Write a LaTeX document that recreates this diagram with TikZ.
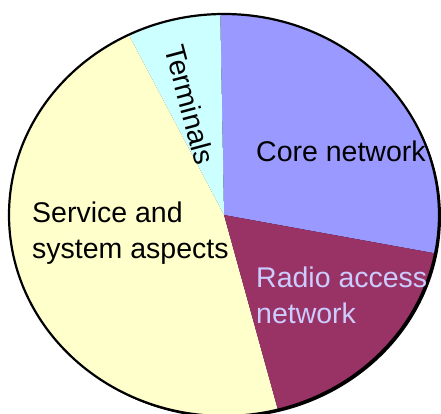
\documentclass[tikz,border=0pt]{standalone}
\usepackage{fontspec}
\setmainfont{Liberation Sans}
\usetikzlibrary{positioning,calc}
\definecolor{termcol}{RGB}{204,255,255}
\definecolor{corecol}{RGB}{153,153,255}
\definecolor{radiocol}{RGB}{153,51,102}
\definecolor{servcol}{RGB}{255,255,204}
\definecolor{radiotext}{RGB}{204,204,255}
\tikzset{
    slice/.style={draw=none},
    rim/.style={draw=black, line width=2.2pt},
    lbl/.style={
        inner sep=0pt,
        align=left,
        font=\fontsize{28.5}{34}\selectfont
    }
}

\begin{document}
\begin{tikzpicture}[x=1pt,y=1pt]
\useasboundingbox (0,0) rectangle (441,414);
\clip (0,0) rectangle (441,414);
\coordinate (C) at (224,199);

% shadow
\fill[black] ($(C)+(2,-2)$) ellipse[x radius=215, y radius=201];

\fill[slice,corecol] (C) -- ++(-11:215 and 201)
    arc[start angle=-11, end angle=91, x radius=215, y radius=201] -- cycle;
\fill[slice,termcol] (C) -- ++(91:215 and 201)
    arc[start angle=91, end angle=116.3, x radius=215, y radius=201] -- cycle;
\fill[slice,servcol] (C) -- ++(116.3:215 and 201)
    arc[start angle=116.3, end angle=284.5, x radius=215, y radius=201] -- cycle;
\fill[slice,radiocol] (C) -- ++(-75.5:215 and 201)
    arc[start angle=-75.5, end angle=-11, x radius=215, y radius=201] -- cycle;
\draw[rim] (C) ellipse[x radius=215, y radius=201];

\node[lbl, anchor=base west] (core) at (256,252) {Core network};
\node[lbl, anchor=base west, text=radiotext] (radio) at (256,90) {Radio access\\[2pt]network};
\node[lbl, anchor=base west] (serv) at (32,155) {Service and\\[2pt]system aspects};
\node[lbl, rotate=-75] (term) at (190,309) {Terminals};
\end{tikzpicture}
\end{document}
